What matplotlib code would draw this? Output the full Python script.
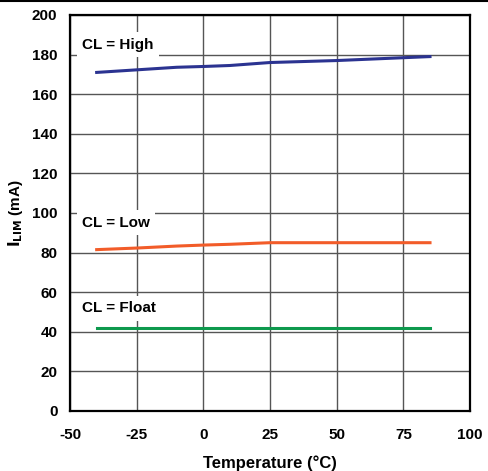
import numpy as np
from matplotlib import pyplot as plt
from matplotlib.lines import Line2D

plt.rcParams['font.family'] = ['Liberation Sans', 'DejaVu Sans']
plt.rcParams['axes.unicode_minus'] = False

temp = [-40, -25, -10, 0, 10, 25, 50, 85]
i_high = [171, 172.3, 173.6, 174, 174.5, 176, 177, 179]
i_low = [81.5, 82.3, 83.3, 83.8, 84.2, 85, 85, 85]
i_float = [41.8, 41.8, 41.8, 41.8, 41.8, 41.8, 41.8, 41.8]

x_ticks = [-50, -25, 0, 25, 50, 75, 100]
y_ticks = [0, 20, 40, 60, 80, 100, 120, 140, 160, 180, 200]

fig = plt.figure(figsize=(4.88, 4.71), dpi=100)
ax = fig.add_axes([70 / 488, 60 / 471, 400 / 488, 396 / 471])

ax.plot(temp, i_high, color=(0.17, 0.2, 0.57), linewidth=2.2, zorder=3)
ax.plot(temp, i_low, color=(0.95, 0.36, 0.16), linewidth=2.2, zorder=3)
ax.plot(temp, i_float, color=(0.05, 0.6, 0.3), linewidth=2.2, zorder=3)

ax.set_xlim(-50, 100)
ax.set_ylim(0, 200)
ax.set_xticks(x_ticks)
ax.set_yticks(y_ticks)
ax.tick_params(axis="x", length=0, pad=12, labelsize=11)
ax.tick_params(axis="y", length=0, pad=9, labelsize=11)
for lbl in ax.get_xticklabels() + ax.get_yticklabels():
    lbl.set_fontweight("bold")
ax.grid(True, color="#555555", linewidth=1)
ax.set_axisbelow(True)
for s in ax.spines.values():
    s.set_linewidth(1.6)
    s.set_color("black")

box = dict(facecolor="white", edgecolor="none", pad=4)
ax.text(-45.5, 185, "CL = High", fontsize=11, fontweight="bold", va="center", bbox=box, zorder=2)
ax.text(-45.5, 95, "CL = Low", fontsize=11, fontweight="bold", va="center", bbox=box, zorder=2)
ax.text(-45.5, 52, "CL = Float", fontsize=11, fontweight="bold", va="center", bbox=box, zorder=2)

ax.set_xlabel("Temperature (°C)", fontsize=12, fontweight="bold", labelpad=10)
ax.set_ylabel(r"$\mathbf{I_{LIM}}$ (mA)", fontsize=11, fontweight="bold", labelpad=5)

fig.add_artist(Line2D([0, 1], [0.998, 0.998], transform=fig.transFigure,
                      color="black", linewidth=1.5))

plt.savefig("out.png", dpi=100)
